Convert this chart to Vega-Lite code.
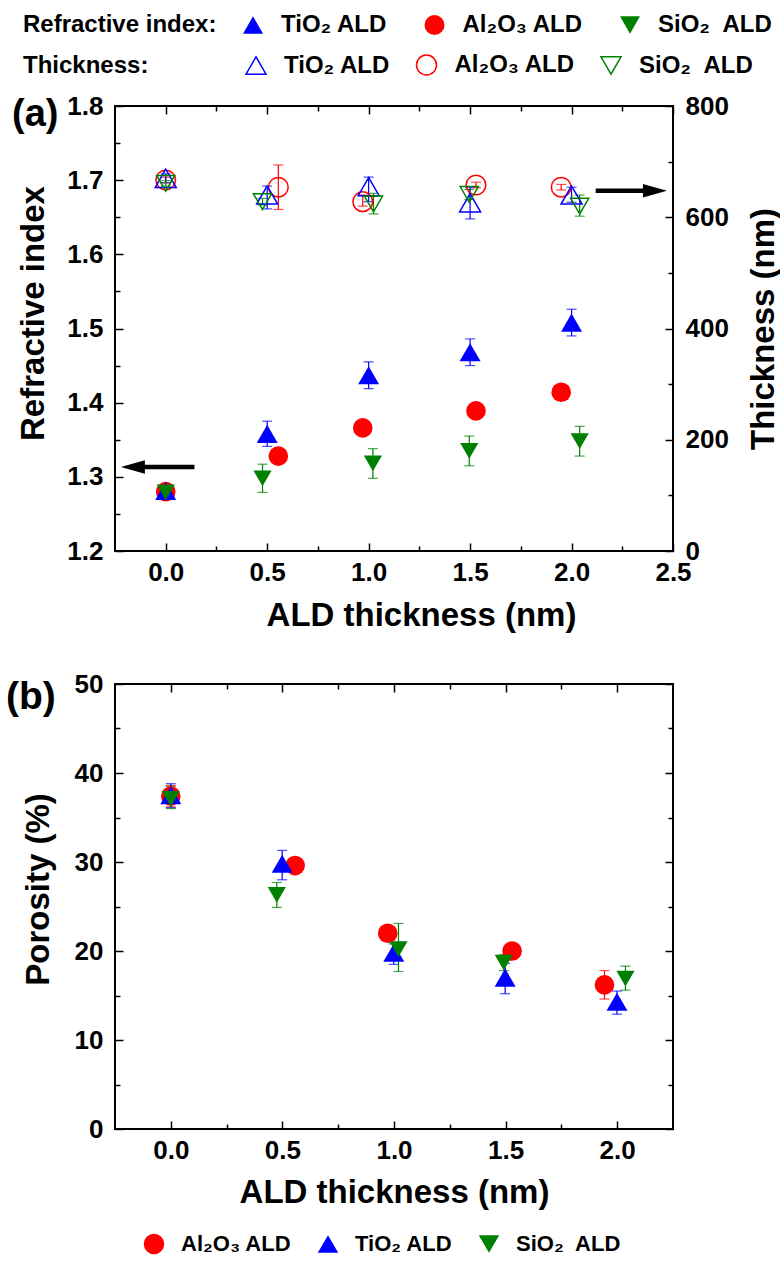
{
  "$schema": "https://vega.github.io/schema/vega-lite/v6.json",
  "padding": {"left": 5, "top": 12, "right": 0, "bottom": 0},
  "datasets": {
    "ri": [
      {"m": "Al2O3", "x": 0, "v": 1.280, "lo": 1.275, "hi": 1.285},
      {"m": "Al2O3", "x": 0.555, "v": 1.328, "lo": 1.323, "hi": 1.333},
      {"m": "Al2O3", "x": 0.971, "v": 1.366, "lo": 1.361, "hi": 1.371},
      {"m": "Al2O3", "x": 1.529, "v": 1.389, "lo": 1.384, "hi": 1.394},
      {"m": "Al2O3", "x": 1.949, "v": 1.414, "lo": 1.409, "hi": 1.419},
      {"m": "TiO2", "x": 0, "v": 1.281, "lo": 1.275, "hi": 1.287},
      {"m": "TiO2", "x": 0.5, "v": 1.358, "lo": 1.341, "hi": 1.375},
      {"m": "TiO2", "x": 1.0, "v": 1.437, "lo": 1.419, "hi": 1.455},
      {"m": "TiO2", "x": 1.5, "v": 1.468, "lo": 1.450, "hi": 1.486},
      {"m": "TiO2", "x": 2.0, "v": 1.508, "lo": 1.490, "hi": 1.526},
      {"m": "SiO2", "x": 0, "v": 1.279, "lo": 1.273, "hi": 1.285},
      {"m": "SiO2", "x": 0.477, "v": 1.298, "lo": 1.279, "hi": 1.317},
      {"m": "SiO2", "x": 1.021, "v": 1.318, "lo": 1.298, "hi": 1.338},
      {"m": "SiO2", "x": 1.496, "v": 1.335, "lo": 1.315, "hi": 1.355},
      {"m": "SiO2", "x": 2.04, "v": 1.348, "lo": 1.328, "hi": 1.368}
    ],
    "thk": [
      {"m": "Al2O3", "x": 0, "v": 667, "lo": 662, "hi": 672},
      {"m": "Al2O3", "x": 0.555, "v": 654, "lo": 614, "hi": 694},
      {"m": "Al2O3", "x": 0.971, "v": 628, "lo": 620, "hi": 640},
      {"m": "Al2O3", "x": 1.529, "v": 658, "lo": 653, "hi": 663},
      {"m": "Al2O3", "x": 1.949, "v": 654, "lo": 649, "hi": 659},
      {"m": "TiO2", "x": 0, "v": 670, "lo": 662, "hi": 678},
      {"m": "TiO2", "x": 0.5, "v": 640, "lo": 615, "hi": 656},
      {"m": "TiO2", "x": 1.0, "v": 655, "lo": 628, "hi": 672},
      {"m": "TiO2", "x": 1.5, "v": 626, "lo": 597, "hi": 654},
      {"m": "TiO2", "x": 2.0, "v": 640, "lo": 627, "hi": 654},
      {"m": "SiO2", "x": 0, "v": 661, "lo": 656, "hi": 666},
      {"m": "SiO2", "x": 0.477, "v": 628, "lo": 622, "hi": 634},
      {"m": "SiO2", "x": 1.024, "v": 624, "lo": 606, "hi": 643},
      {"m": "SiO2", "x": 1.496, "v": 641, "lo": 632, "hi": 650},
      {"m": "SiO2", "x": 2.04, "v": 620, "lo": 602, "hi": 640}
    ],
    "por": [
      {"m": "Al2O3", "x": 0, "v": 37.4, "lo": 36.2, "hi": 38.6},
      {"m": "TiO2", "x": 0, "v": 37.5, "lo": 36.1, "hi": 38.8},
      {"m": "SiO2", "x": 0, "v": 37.1, "lo": 36.0, "hi": 38.5},
      {"m": "Al2O3", "x": 0.557, "v": 29.6, "lo": 29.0, "hi": 30.2},
      {"m": "TiO2", "x": 0.499, "v": 29.8, "lo": 28.0, "hi": 31.3},
      {"m": "SiO2", "x": 0.475, "v": 26.3, "lo": 24.9, "hi": 27.7},
      {"m": "Al2O3", "x": 0.972, "v": 22.0, "lo": 21.5, "hi": 22.5},
      {"m": "TiO2", "x": 0.999, "v": 19.8, "lo": 18.5, "hi": 20.8},
      {"m": "SiO2", "x": 1.02, "v": 20.2, "lo": 17.7, "hi": 23.1},
      {"m": "Al2O3", "x": 1.529, "v": 20.0, "lo": 19.5, "hi": 20.5},
      {"m": "TiO2", "x": 1.498, "v": 17.0, "lo": 15.2, "hi": 18.6},
      {"m": "SiO2", "x": 1.492, "v": 18.7, "lo": 17.8, "hi": 19.6},
      {"m": "Al2O3", "x": 1.943, "v": 16.2, "lo": 14.6, "hi": 17.8},
      {"m": "TiO2", "x": 1.999, "v": 14.3, "lo": 12.9, "hi": 15.5},
      {"m": "SiO2", "x": 2.037, "v": 16.9, "lo": 15.6, "hi": 18.3}
    ],
    "arrowL": [{"tip": -0.221, "base": -0.141, "tail": 0.1415, "v": 1.3133}],
    "arrowR": [{"tip": 2.47, "base": 2.39, "tail": 2.119, "v": 647.6}]
  },
  "vconcat": [
    {
      "width": 558,
      "height": 445,
      "title": {"text": "(a)", "anchor": "start", "frame": "group", "orient": "top", "offset": 0, "dx": -103, "dy": 151, "fontSize": 38, "fontWeight": "bold", "font": "Liberation Sans", "color": "black", "baseline": "alphabetic"},
      "layer": [
        {
          "data": {"name": "ri"},
          "mark": {"type": "errorbar", "ticks": {"size": 10}, "thickness": 1.2},
          "encoding": {
            "x": {"field": "x", "type": "quantitative", "scale": {"domain": [-0.25, 2.5], "nice": false, "zero": false}, "axis": {"orient": "top", "values": [0, 0.5, 1, 1.5, 2, 2.5], "labels": false, "tickSize": -8, "title": null}},
            "y": {"field": "lo", "type": "quantitative", "scale": {"domain": [1.2, 1.8], "nice": false, "zero": false}, "axis": {"orient": "left", "values": [1.25, 1.35, 1.45, 1.55, 1.65, 1.75], "labels": false, "tickSize": -5, "title": null}},
            "y2": {"field": "hi"},
            "color": {"field": "m", "type": "nominal", "scale": {"domain": ["TiO2", "Al2O3", "SiO2"], "range": ["#0000FF", "#FF0000", "#008000"]}, "legend": null}
          }
        },
        {
          "data": {"name": "thk"},
          "mark": {"type": "errorbar", "ticks": {"size": 10}, "thickness": 1.2},
          "encoding": {
            "x": {"field": "x", "type": "quantitative", "scale": {"domain": [-0.25, 2.5], "nice": false, "zero": false}, "axis": {"orient": "top", "values": [0.25, 0.75, 1.25, 1.75, 2.25], "labels": false, "tickSize": -5, "title": null}},
            "y": {"field": "lo", "type": "quantitative", "scale": {"domain": [0, 800], "nice": false}, "axis": {"orient": "right", "values": [100, 300, 500, 700], "labels": false, "tickSize": -5, "title": null}},
            "y2": {"field": "hi"},
            "color": {"field": "m", "type": "nominal", "scale": {"domain": ["TiO2", "Al2O3", "SiO2"], "range": ["#0000FF", "#FF0000", "#008000"]}, "legend": null}
          }
        },
        {
          "layer": [
            {
              "data": {"name": "ri"},
              "mark": {"type": "point", "filled": true, "opacity": 1},
              "encoding": {
                "x": {"field": "x", "type": "quantitative", "scale": {"domain": [-0.25, 2.5], "nice": false, "zero": false}, "axis": {"orient": "bottom", "values": [0, 0.5, 1, 1.5, 2, 2.5], "format": ".1f", "tickSize": -8, "labelPadding": 16, "title": "ALD thickness (nm)", "titleX": 306, "titleY": 74, "titleBaseline": "alphabetic", "titleAlign": "center"}},
                "y": {"field": "v", "type": "quantitative", "scale": {"domain": [1.2, 1.8], "nice": false, "zero": false}, "axis": {"orient": "left", "values": [1.2, 1.3, 1.4, 1.5, 1.6, 1.7, 1.8], "format": ".1f", "tickSize": -8, "labelPadding": 20, "title": "Refractive index", "titleX": -72, "titleY": 207, "titleAngle": 270, "titleBaseline": "alphabetic", "titleAlign": "center"}},
                "color": {"field": "m", "type": "nominal", "scale": {"domain": ["TiO2", "Al2O3", "SiO2"], "range": ["#0000FF", "#FF0000", "#008000"]}, "legend": {"title": "Refractive index:", "orient": "none", "legendX": -92, "legendY": -93, "direction": "horizontal", "titleOrient": "left", "titlePadding": 24, "columnPadding": 34.5, "labelExpr": "datum.label == 'TiO2' ? 'TiO₂ ALD' : datum.label == 'Al2O3' ? 'Al₂O₃ ALD' : 'SiO₂\u00a0 ALD'"}},
                "shape": {"field": "m", "type": "nominal", "scale": {"domain": ["TiO2", "Al2O3", "SiO2"], "range": ["triangle-up", "circle", "triangle-down"]}, "legend": {"title": "Refractive index:", "orient": "none", "legendX": -92, "legendY": -93, "direction": "horizontal", "titleOrient": "left", "titlePadding": 24, "columnPadding": 34.5, "labelExpr": "datum.label == 'TiO2' ? 'TiO₂ ALD' : datum.label == 'Al2O3' ? 'Al₂O₃ ALD' : 'SiO₂\u00a0 ALD'"}},
                "size": {"field": "m", "type": "nominal", "scale": {"domain": ["TiO2", "Al2O3", "SiO2"], "range": [441, 330, 441]}, "legend": null}
              }
            },
            {
              "data": {"name": "arrowL"},
              "mark": {"type": "rule", "strokeWidth": 4.5, "color": "black"},
              "encoding": {
                "x": {"field": "base", "type": "quantitative", "scale": {"domain": [-0.25, 2.5], "nice": false, "zero": false}, "axis": null},
                "x2": {"field": "tail"},
                "y": {"field": "v", "type": "quantitative", "scale": {"domain": [1.2, 1.8], "nice": false, "zero": false}, "axis": null}
              }
            },
            {
              "data": {"name": "arrowL"},
              "mark": {"type": "point", "shape": "M0,0L2,-0.56L2,0.56Z", "size": 576, "filled": true, "color": "black", "opacity": 1},
              "encoding": {
                "x": {"field": "tip", "type": "quantitative", "scale": {"domain": [-0.25, 2.5], "nice": false, "zero": false}, "axis": null},
                "y": {"field": "v", "type": "quantitative", "scale": {"domain": [1.2, 1.8], "nice": false, "zero": false}, "axis": null}
              }
            }
          ],
          "resolve": {"axis": {"x": "independent", "y": "independent"}}
        },
        {
          "layer": [
            {
              "data": {"name": "thk"},
              "mark": {"type": "point", "filled": false, "opacity": 1, "strokeWidth": 1.5},
              "encoding": {
                "x": {"field": "x", "type": "quantitative", "scale": {"domain": [-0.25, 2.5], "nice": false, "zero": false}, "axis": {"orient": "bottom", "values": [0.25, 0.75, 1.25, 1.75, 2.25], "labels": false, "tickSize": -5, "title": null}},
                "y": {"field": "v", "type": "quantitative", "scale": {"domain": [0, 800], "nice": false}, "axis": {"orient": "right", "values": [0, 200, 400, 600, 800], "format": "d", "tickSize": -8, "labelPadding": 20, "title": "Thickness (nm)", "titleX": 100, "titleY": 222.5, "titleAngle": 270, "titleBaseline": "alphabetic", "titleAlign": "center"}},
                "color": {"field": "m", "type": "nominal", "scale": {"domain": ["TiO2", "Al2O3", "SiO2"], "range": ["#0000FF", "#FF0000", "#008000"]}, "legend": {"title": "Thickness:", "orient": "none", "legendX": -92, "legendY": -53, "direction": "horizontal", "titleOrient": "left", "titlePadding": 95, "columnPadding": 22.5, "labelExpr": "datum.label == 'TiO2' ? 'TiO₂ ALD' : datum.label == 'Al2O3' ? 'Al₂O₃ ALD' : 'SiO₂\u00a0 ALD'"}},
                "shape": {"field": "m", "type": "nominal", "scale": {"domain": ["TiO2", "Al2O3", "SiO2"], "range": ["triangle-up", "circle", "triangle-down"]}, "legend": {"title": "Thickness:", "orient": "none", "legendX": -92, "legendY": -53, "direction": "horizontal", "titleOrient": "left", "titlePadding": 95, "columnPadding": 22.5, "labelExpr": "datum.label == 'TiO2' ? 'TiO₂ ALD' : datum.label == 'Al2O3' ? 'Al₂O₃ ALD' : 'SiO₂\u00a0 ALD'"}},
                "size": {"field": "m", "type": "nominal", "scale": {"domain": ["TiO2", "Al2O3", "SiO2"], "range": [441, 330, 441]}, "legend": null}
              }
            },
            {
              "data": {"name": "arrowR"},
              "mark": {"type": "rule", "strokeWidth": 4.5, "color": "black"},
              "encoding": {
                "x": {"field": "tail", "type": "quantitative", "scale": {"domain": [-0.25, 2.5], "nice": false, "zero": false}, "axis": null},
                "x2": {"field": "base"},
                "y": {"field": "v", "type": "quantitative", "scale": {"domain": [0, 800], "nice": false}, "axis": null}
              }
            },
            {
              "data": {"name": "arrowR"},
              "mark": {"type": "point", "shape": "M0,0L-2,-0.56L-2,0.56Z", "size": 576, "filled": true, "color": "black", "opacity": 1},
              "encoding": {
                "x": {"field": "tip", "type": "quantitative", "scale": {"domain": [-0.25, 2.5], "nice": false, "zero": false}, "axis": null},
                "y": {"field": "v", "type": "quantitative", "scale": {"domain": [0, 800], "nice": false}, "axis": null}
              }
            }
          ],
          "resolve": {"axis": {"x": "independent", "y": "independent"}}
        }
      ],
      "resolve": {"scale": {"y": "independent", "color": "independent", "shape": "independent"}, "axis": {"x": "independent", "y": "independent"}}
    },
    {
      "width": 558,
      "height": 445,
      "title": {"text": "(b)", "anchor": "start", "frame": "group", "orient": "top", "offset": 0, "dx": -109, "dy": 77, "fontSize": 39, "fontWeight": "bold", "font": "Liberation Sans", "color": "black", "baseline": "alphabetic"},
      "data": {"name": "por"},
      "layer": [
        {
          "mark": {"type": "errorbar", "ticks": {"size": 10}, "thickness": 1.2},
          "encoding": {
            "x": {"field": "x", "type": "quantitative", "scale": {"domain": [-0.25, 2.25], "nice": false, "zero": false}, "axis": {"orient": "top", "values": [0, 0.5, 1, 1.5, 2], "labels": false, "tickSize": -8, "title": null}},
            "y": {"field": "lo", "type": "quantitative", "scale": {"domain": [0, 50], "nice": false}, "axis": {"orient": "right", "values": [0, 10, 20, 30, 40, 50], "labels": false, "tickSize": -8, "title": null}},
            "y2": {"field": "hi"},
            "color": {"field": "m", "type": "nominal", "scale": {"domain": ["Al2O3", "TiO2", "SiO2"], "range": ["#FF0000", "#0000FF", "#008000"]}, "legend": null}
          }
        },
        {
          "mark": {"type": "point", "filled": true, "opacity": 1},
          "encoding": {
            "x": {"field": "x", "type": "quantitative", "scale": {"domain": [-0.25, 2.25], "nice": false, "zero": false}, "axis": {"orient": "bottom", "values": [0, 0.5, 1, 1.5, 2], "format": ".1f", "tickSize": -8, "labelPadding": 16, "title": "ALD thickness (nm)", "titleX": 279, "titleY": 73, "titleBaseline": "alphabetic", "titleAlign": "center"}},
            "y": {"field": "v", "type": "quantitative", "scale": {"domain": [0, 50], "nice": false}, "axis": {"orient": "left", "values": [0, 10, 20, 30, 40, 50], "format": "d", "tickSize": -8, "labelPadding": 20, "title": "Porosity (%)", "titleX": -67, "titleY": 205, "titleAngle": 270, "titleBaseline": "alphabetic", "titleAlign": "center"}},
            "color": {"field": "m", "type": "nominal", "scale": {"domain": ["Al2O3", "TiO2", "SiO2"], "range": ["#FF0000", "#0000FF", "#008000"]}, "legend": {"title": null, "orient": "none", "legendX": 28, "legendY": 549, "direction": "horizontal", "labelFontSize": 22, "symbolSize": 420, "columnPadding": 25, "labelExpr": "datum.label == 'TiO2' ? 'TiO₂ ALD' : datum.label == 'Al2O3' ? 'Al₂O₃ ALD' : 'SiO₂\u00a0 ALD'"}},
            "shape": {"field": "m", "type": "nominal", "scale": {"domain": ["Al2O3", "TiO2", "SiO2"], "range": ["circle", "triangle-up", "triangle-down"]}, "legend": {"title": null, "orient": "none", "legendX": 28, "legendY": 549, "direction": "horizontal", "labelFontSize": 22, "symbolSize": 420, "columnPadding": 25, "labelExpr": "datum.label == 'TiO2' ? 'TiO₂ ALD' : datum.label == 'Al2O3' ? 'Al₂O₃ ALD' : 'SiO₂\u00a0 ALD'"}},
            "size": {"field": "m", "type": "nominal", "scale": {"domain": ["TiO2", "Al2O3", "SiO2"], "range": [441, 330, 441]}, "legend": null}
          }
        },
        {
          "mark": {"type": "point", "opacity": 0},
          "encoding": {
            "x": {"field": "x", "type": "quantitative", "scale": {"domain": [-0.25, 2.25], "nice": false, "zero": false}, "axis": {"orient": "bottom", "values": [0.25, 0.75, 1.25, 1.75], "labels": false, "tickSize": -5, "title": null}},
            "y": {"field": "v", "type": "quantitative", "scale": {"domain": [0, 50], "nice": false}, "axis": {"orient": "left", "values": [5, 15, 25, 35, 45], "labels": false, "tickSize": -5, "title": null}}
          }
        },
        {
          "mark": {"type": "point", "opacity": 0},
          "encoding": {
            "x": {"field": "x", "type": "quantitative", "scale": {"domain": [-0.25, 2.25], "nice": false, "zero": false}, "axis": {"orient": "top", "values": [0.25, 0.75, 1.25, 1.75], "labels": false, "tickSize": -5, "title": null}},
            "y": {"field": "v", "type": "quantitative", "scale": {"domain": [0, 50], "nice": false}, "axis": {"orient": "right", "values": [5, 15, 25, 35, 45], "labels": false, "tickSize": -5, "title": null}}
          }
        }
      ],
      "resolve": {"scale": {"color": "independent", "shape": "independent"}, "axis": {"x": "independent", "y": "independent"}}
    }
  ],
  "spacing": 133,
  "bounds": "flush",
  "resolve": {"scale": {"color": "independent", "shape": "independent"}},
  "config": {
    "font": "Liberation Sans",
    "view": {"stroke": "black", "strokeWidth": 2},
    "axis": {"grid": false, "domain": false, "ticks": true, "tickColor": "black", "tickWidth": 1.5, "labelFont": "Liberation Sans", "labelFontSize": 26, "labelFontWeight": "bold", "labelColor": "black", "labelFlush": false, "labelOverlap": false, "titleFont": "Liberation Sans", "titleFontSize": 33, "titleFontWeight": "bold", "titleColor": "black"},
    "legend": {"labelFont": "Liberation Sans", "labelFontSize": 24, "labelFontWeight": "bold", "labelColor": "black", "titleFont": "Liberation Sans", "titleFontSize": 24, "titleFontWeight": "bold", "titleColor": "black", "titleLimit": 400, "labelLimit": 300, "symbolSize": 400, "symbolStrokeWidth": 1.5, "labelOffset": 16, "columnPadding": 26, "titlePadding": 28, "padding": 0}
  }
}
